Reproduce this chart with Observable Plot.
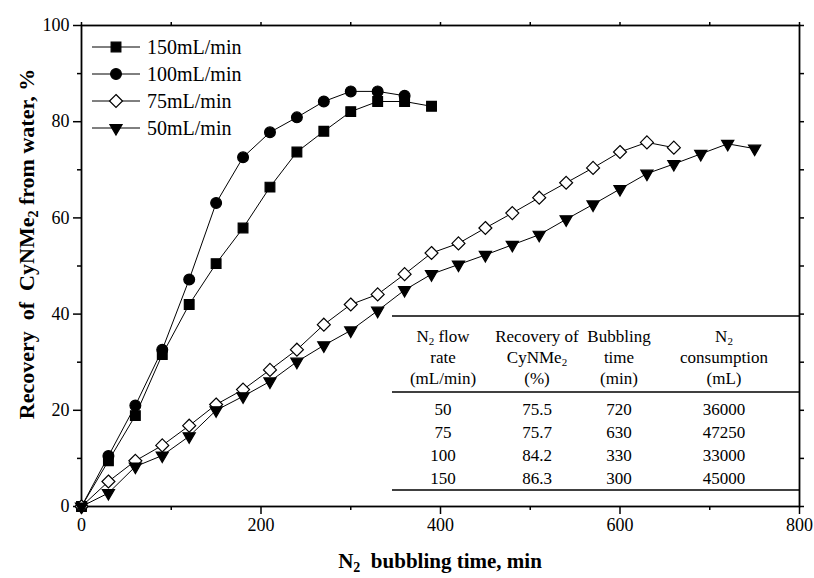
<!DOCTYPE html>
<html><head><meta charset="utf-8">
<script src="https://cdn.jsdelivr.net/npm/d3@7"></script>
<script src="https://cdn.jsdelivr.net/npm/@observablehq/plot@0.6"></script>
<style>
html,body{margin:0;padding:0;background:#fff;}
#chart{width:814px;height:578px;}
</style></head><body><div id="chart"></div>
<script>
// ---- data ----
const seriesNames = ["150mL/min", "100mL/min", "75mL/min", "50mL/min"];
const time150 = [0, 30, 60, 90, 120, 150, 180, 210, 240, 270, 300, 330, 360, 390];
const rec150  = [0, 9.5, 18.9, 31.6, 42.0, 50.5, 57.9, 66.4, 73.7, 78.0, 82.1, 84.2, 84.2, 83.2];
const time100 = [0, 30, 60, 90, 120, 150, 180, 210, 240, 270, 300, 330, 360];
const rec100  = [0, 10.5, 21.0, 32.6, 47.2, 63.1, 72.6, 77.8, 80.9, 84.2, 86.3, 86.3, 85.4];
const time75  = [0, 30, 60, 90, 120, 150, 180, 210, 240, 270, 300, 330, 360, 390, 420, 450, 480, 510, 540, 570, 600, 630, 660];
const rec75   = [0, 5.2, 9.5, 12.7, 16.8, 21.2, 24.3, 28.4, 32.6, 37.8, 42.0, 44.1, 48.3, 52.7, 54.7, 57.9, 61.0, 64.2, 67.3, 70.4, 73.7, 75.7, 74.6];
const time50  = [0, 30, 60, 90, 120, 150, 180, 210, 240, 270, 300, 330, 360, 390, 420, 450, 480, 510, 540, 570, 600, 630, 660, 690, 720, 750];
const rec50   = [0, 2.8, 8.3, 10.6, 14.6, 20.0, 22.9, 26.0, 30.1, 33.5, 36.6, 40.7, 45.0, 48.3, 50.3, 52.3, 54.4, 56.5, 59.7, 62.8, 66.0, 69.2, 71.2, 73.3, 75.4, 74.4];

const xTicks = [0, 200, 400, 600, 800];
const xMinorTicks = [100, 300, 500, 700];
const yTicks = [0, 20, 40, 60, 80, 100];
const yMinorTicks = [10, 30, 50, 70, 90];

const xTitle = "N_2  bubbling time, min";
const yTitle = "Recovery  of  CyNMe_2 from water, %";

// inset table
const tableHeader = [
  ["N_2 flow", "rate", "(mL/min)"],
  ["Recovery of", "CyNMe_2", "(%)"],
  ["Bubbling", "time", "(min)"],
  ["N_2", "consumption", "(mL)"]
];
const tableFlow = ["50", "75", "100", "150"];
const tableRecovery = ["75.5", "75.7", "84.2", "86.3"];
const tableTime = ["720", "630", "330", "300"];
const tableConsumption = ["36000", "47250", "33000", "45000"];

// ---- symbols ----
const symSquare = {draw(ctx, size) { const r = Math.sqrt(size / Math.PI) * 0.9; ctx.rect(-r, -r, 2 * r, 2 * r); }};
const symCircle = {draw(ctx, size) { const r = Math.sqrt(size / Math.PI); ctx.moveTo(r, 0); ctx.arc(0, 0, r, 0, 2 * Math.PI); }};
const symDiamond = {draw(ctx, size) { const r = Math.sqrt(size / Math.PI) * 1.2; ctx.moveTo(0, -r); ctx.lineTo(r, 0); ctx.lineTo(0, r); ctx.lineTo(-r, 0); ctx.closePath(); }};
const symTriDown = {draw(ctx, size) { const R = Math.sqrt(size / Math.PI) * 1.3; ctx.moveTo(0, R); ctx.lineTo(R * 0.866, -R / 2); ctx.lineTo(-R * 0.866, -R / 2); ctx.closePath(); }};

const series = [
  {name: seriesNames[0], t: time150, v: rec150, symbol: symSquare, fill: "black"},
  {name: seriesNames[1], t: time100, v: rec100, symbol: symCircle, fill: "black"},
  {name: seriesNames[2], t: time75,  v: rec75,  symbol: symDiamond, fill: "white"},
  {name: seriesNames[3], t: time50,  v: rec50,  symbol: symTriDown, fill: "black"}
];
const rows = series.flatMap(s => s.t.map((t, i) => ({s: s.name, t, v: s.v[i]})));

const font = "'Liberation Serif', 'Times New Roman', serif";
const markR = 5.4;

const plot = Plot.plot({
  width: 814, height: 578,
  marginLeft: 81, marginRight: 15, marginTop: 25, marginBottom: 72,
  style: {fontFamily: font, fontSize: "18px", color: "black", background: "white"},
  x: {domain: [0, 800]},
  y: {domain: [0, 100]},
  marks: [
    Plot.axisX({ticks: xTicks, tickSize: 8, tickPadding: 4, label: null, strokeWidth: 1.5, fontSize: 18}),
    Plot.axisX({ticks: xMinorTicks, tickSize: 4, tickFormat: () => "", label: null, strokeWidth: 1.5}),
    Plot.axisX({anchor: "top", ticks: [...xTicks, ...xMinorTicks], tickSize: 4, tickFormat: () => "", label: null, strokeWidth: 1.5}),
    Plot.axisY({ticks: yTicks, tickSize: 8, tickPadding: 4, label: null, strokeWidth: 1.5, fontSize: 18}),
    Plot.axisY({ticks: yMinorTicks, tickSize: 4, tickFormat: () => "", label: null, strokeWidth: 1.5}),
    Plot.axisY({anchor: "right", ticks: [...yTicks, ...yMinorTicks], tickSize: 4, tickFormat: () => "", label: null, strokeWidth: 1.5}),
    Plot.frame({stroke: "black", strokeWidth: 1.8}),
    Plot.line(rows, {x: "t", y: "v", z: "s", stroke: "black", strokeWidth: 1}),
    ...series.map(s => Plot.dot(rows.filter(d => d.s === s.name), {x: "t", y: "v", r: markR, symbol: s.symbol, fill: s.fill, stroke: "black", strokeWidth: 1.2}))
  ]
});
document.getElementById("chart").appendChild(plot);

const svg = d3.select(plot);
// drop the empty labels of the tick-only axes
svg.selectAll("text").filter(function() { return this.textContent === ""; }).remove();

// ---- text helpers (subscripts via "_2") ----
function richText(sel, str, subSize) {
  const parts = str.split(/_(\d)/);
  parts.forEach((p, i) => {
    if (i % 2 === 0) { if (p) sel.append("tspan").text(p); }
    else sel.append("tspan").attr("baseline-shift", "-25%").attr("font-size", subSize).text(p);
  });
}
function addText(g, str, x, y, opts) {
  const t = g.append("text").attr("x", x).attr("y", y)
    .attr("text-anchor", opts.anchor || "middle")
    .attr("font-family", font).attr("font-size", opts.size)
    .attr("font-weight", opts.weight || "normal").attr("fill", "black")
    .style("white-space", "pre");
  if (opts.rotate) t.attr("transform", `rotate(-90,${x},${y})`);
  richText(t, str, opts.subSize || Math.round(opts.size * 0.65));
  return t;
}

// axis titles
const ov = svg.append("g");
addText(ov, xTitle, 440, 568, {size: 21, weight: "bold"});
addText(ov, yTitle, 34, 244, {size: 22, weight: "bold", rotate: true});

// legend
const leg = svg.append("g");
series.forEach((s, i) => {
  const y = 47 + i * 27;
  leg.append("line").attr("x1", 92).attr("x2", 140).attr("y1", y).attr("y2", y).attr("stroke", "black").attr("stroke-width", 1);
  leg.append("path").attr("transform", `translate(116,${y})`)
    .attr("d", d3.symbol().type(s.symbol).size(markR * markR * Math.PI)())
    .attr("fill", s.fill).attr("stroke", "black").attr("stroke-width", 1.2);
  addText(leg, s.name, 147, y + 7, {size: 20, anchor: "start"});
});

// inset table
const tb = svg.append("g");
const colX = [443, 537, 619, 724];
const tLeft = 392, tRight = 799;
const topLine = 316, hdr0 = 336, hdrStep = 21, hdrLine = 392, row0 = 409, rowStep = 23, botLine = 490;
const hline = y => tb.append("line").attr("x1", tLeft).attr("x2", tRight).attr("y1", y).attr("y2", y).attr("stroke", "black").attr("stroke-width", 1.5);
hline(topLine);
tableHeader.forEach((col, c) => col.forEach((str, r) => addText(tb, str, colX[c], hdr0 + r * hdrStep + 6, {size: 17, subSize: 11})));
hline(hdrLine);
const body = [tableFlow, tableRecovery, tableTime, tableConsumption];
body.forEach((col, c) => col.forEach((str, r) => addText(tb, str, colX[c], row0 + r * rowStep + 6, {size: 17})));
hline(botLine);
</script></body></html>
